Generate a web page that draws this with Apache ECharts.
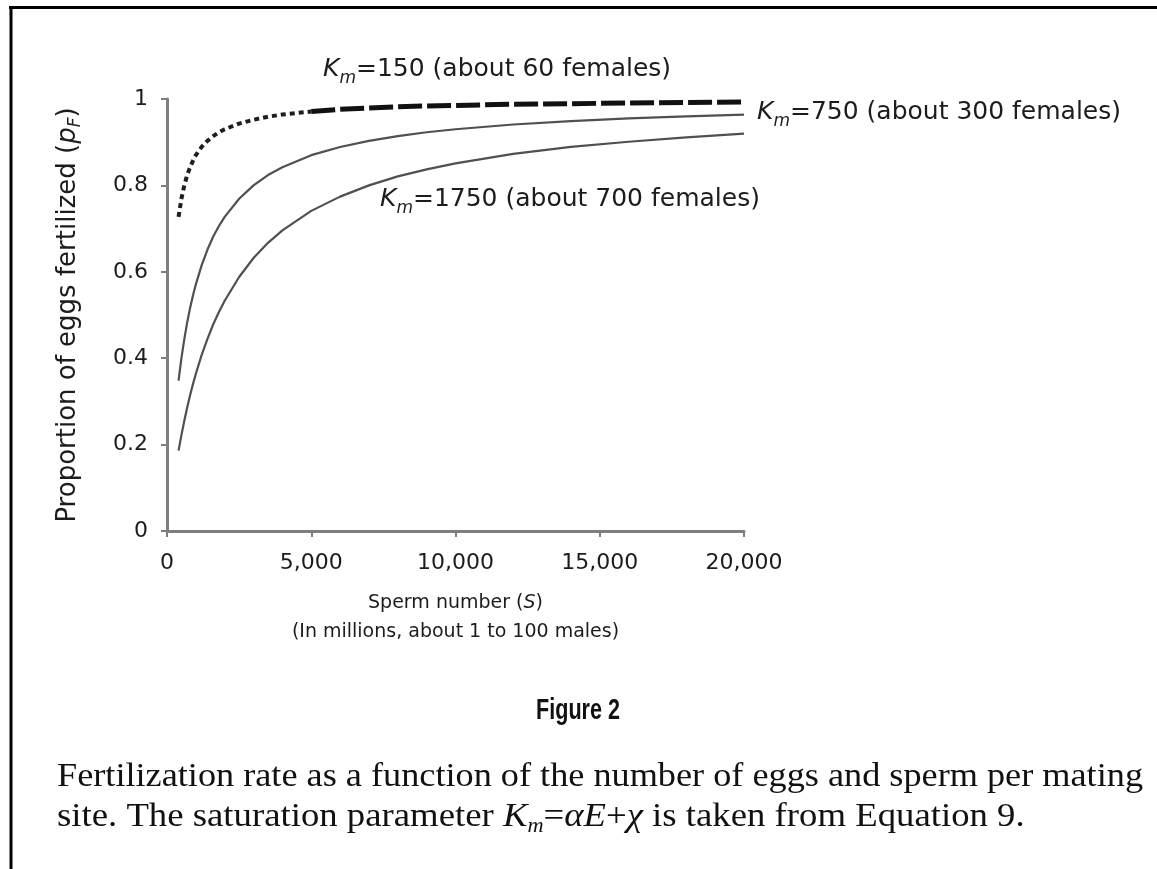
<!DOCTYPE html>
<html>
<head>
<meta charset="utf-8">
<script src="https://cdn.jsdelivr.net/npm/echarts@6/dist/echarts.min.js"></script>
<style>
  html, body { margin: 0; padding: 0; background: #ffffff; }
  #chart { width: 1157px; height: 869px; }
</style>
</head>
<body>
<div id="chart"></div>
<script>
// Sperm number S (millions) at which the proportion fertilized is given
const spermNumber = [400, 500, 600, 700, 800, 900, 1000, 1200, 1400, 1600, 1800, 2000,
                     2500, 3000, 3500, 4000, 5000, 6000, 7000, 8000, 9000, 10000,
                     12000, 14000, 16000, 18000, 20000];
// Proportion of eggs fertilized, one list per saturation parameter K_m
const pfKm150  = [0.727, 0.769, 0.800, 0.824, 0.842, 0.857, 0.870, 0.889, 0.903, 0.914, 0.923, 0.930,
                  0.943, 0.952, 0.959, 0.964, 0.971, 0.976, 0.979, 0.982, 0.984, 0.985,
                  0.988, 0.989, 0.991, 0.992, 0.993];
const pfKm750  = [0.348, 0.400, 0.444, 0.483, 0.516, 0.545, 0.571, 0.615, 0.651, 0.681, 0.706, 0.727,
                  0.769, 0.800, 0.824, 0.842, 0.870, 0.889, 0.903, 0.914, 0.923, 0.930,
                  0.941, 0.949, 0.955, 0.960, 0.964];
const pfKm1750 = [0.186, 0.222, 0.255, 0.286, 0.314, 0.340, 0.364, 0.407, 0.444, 0.478, 0.507, 0.533,
                  0.588, 0.632, 0.667, 0.696, 0.741, 0.774, 0.800, 0.821, 0.837, 0.851,
                  0.873, 0.889, 0.901, 0.911, 0.920];
const seriesNames = ['K_m=150', 'K_m=750', 'K_m=1750'];
const xTickLabels = ['0', '5,000', '10,000', '15,000', '20,000'];
const yTickLabels = ['0', '0.2', '0.4', '0.6', '0.8', '1'];

const SANS = 'DejaVu Sans';
const SERIF = 'Liberation Serif';
const AXIS_GREY = '#7f7f7f';
const INK = '#1c1c1c';

const pairs = vals => spermNumber.map((s, i) => [s, vals[i]]);
const km150 = pairs(pfKm150);
const dashFrom = spermNumber.indexOf(5000);

// rich-text styles for the italic K with subscript m
const kmRich = {
  k: { fontFamily: SANS, fontSize: 25, fontStyle: 'italic', lineHeight: 36, fill: INK },
  m: { fontFamily: SANS, fontSize: 17, fontStyle: 'italic', lineHeight: 17, verticalAlign: 'bottom', fill: INK },
  t: { fontFamily: SANS, fontSize: 25, lineHeight: 36, fill: INK }
};
function curveLabel(x, y, value, females) {
  return {
    type: 'text', x: x, y: y, silent: true,
    style: {
      text: '{k|K}{m|m}{t|=' + value + ' (about ' + females + ' females)}',
      rich: kmRich, align: 'left', verticalAlign: 'middle'
    }
  };
}

// caption: measure the serif line so it can be fitted to the text block width
const capLine1 = 'Fertilization rate as a function of the number of eggs and sperm per mating';
const capFont = '33px "' + SERIF + '"';
const measureCtx = document.createElement('canvas').getContext('2d');
measureCtx.font = capFont;
const capScale = (1143 - 57) / measureCtx.measureText(capLine1).width;

const capRich = {
  i: { fontFamily: SERIF, fontSize: 33, fontStyle: 'italic', lineHeight: 40, fill: '#111' },
  s: { fontFamily: SERIF, fontSize: 20, fontStyle: 'italic', lineHeight: 20, verticalAlign: 'bottom', fill: '#111' },
  r: { fontFamily: SERIF, fontSize: 33, lineHeight: 40, fill: '#111' }
};

const lineBase = { type: 'line', smooth: false, showSymbol: false, silent: true };

const chart = echarts.init(document.getElementById('chart'), null, { renderer: 'canvas' });

chart.setOption({
  backgroundColor: '#ffffff',
  animation: false,
  grid: { left: 167, right: 413, top: 99, bottom: 338, containLabel: false },
  xAxis: {
    type: 'value', min: 0, max: 20000, interval: 5000,
    axisLine: { show: true, onZero: false, lineStyle: { color: AXIS_GREY, width: 3 } },
    axisTick: { show: true, inside: false, length: 6, lineStyle: { color: AXIS_GREY, width: 2 } },
    splitLine: { show: false },
    axisLabel: {
      margin: 21, color: INK, fontFamily: SANS, fontSize: 22,
      formatter: v => xTickLabels[Math.round(v / 5000)]
    },
    name: '{t|Sperm number (}{i|S}{t|)}\n{t|(In millions, about 1 to 100 males)}',
    nameLocation: 'middle', nameGap: 58,
    nameTextStyle: {
      rich: {
        t: { fontFamily: SANS, fontSize: 19, lineHeight: 29, color: INK },
        i: { fontFamily: SANS, fontSize: 19, fontStyle: 'italic', lineHeight: 29, color: INK }
      }
    }
  },
  yAxis: {
    type: 'value', min: 0, max: 1, interval: 0.2,
    axisLine: { show: true, lineStyle: { color: AXIS_GREY, width: 3 } },
    axisTick: { show: true, inside: false, length: 6, lineStyle: { color: AXIS_GREY, width: 2 } },
    splitLine: { show: false },
    axisLabel: {
      margin: 19, color: INK, fontFamily: SANS, fontSize: 22,
      formatter: v => yTickLabels[Math.round(v / 0.2)]
    },
    name: '{t|Proportion of eggs fertilized (}{i|p}{s|F}{t|)}',
    nameLocation: 'middle', nameGap: 83,
    nameTextStyle: {
      rich: {
        t: { fontFamily: SANS, fontSize: 26, lineHeight: 32, color: INK },
        i: { fontFamily: SANS, fontSize: 26, fontStyle: 'italic', lineHeight: 32, color: INK },
        s: { fontFamily: SANS, fontSize: 17, fontStyle: 'italic', lineHeight: 17, verticalAlign: 'bottom', color: INK }
      }
    }
  },
  series: [
    Object.assign({}, lineBase, {
      name: seriesNames[2], data: pairs(pfKm1750),
      lineStyle: { color: '#505050', width: 2.2, join: 'round' }
    }),
    Object.assign({}, lineBase, {
      name: seriesNames[1], data: pairs(pfKm750),
      lineStyle: { color: '#505050', width: 2.2, join: 'round' }
    }),
    Object.assign({}, lineBase, {
      // steep early part of the K_m=150 curve, short dashes
      name: seriesNames[0], data: km150.slice(0, dashFrom + 1),
      lineStyle: { color: '#1e1e1e', width: 4, type: [5, 4] }
    }),
    Object.assign({}, lineBase, {
      // flat part of the K_m=150 curve, long dashes
      name: seriesNames[0], data: km150.slice(dashFrom),
      lineStyle: { color: '#111111', width: 5, type: [24, 5] }
    })
  ],
  graphic: [
    // figure frame (top and left rules)
    { type: 'line', silent: true, shape: { x1: 9, y1: 7.5, x2: 1157, y2: 7.5 }, style: { stroke: '#000', lineWidth: 3 } },
    { type: 'line', silent: true, shape: { x1: 11, y1: 6, x2: 11, y2: 869 }, style: { stroke: '#000', lineWidth: 3 } },
    // curve labels
    curveLabel(323, 69.5, 150, 60),
    curveLabel(757, 112, 750, 300),
    curveLabel(380, 199.5, 1750, 700),
    // figure heading
    {
      type: 'text', x: 578, y: 711, scaleX: 0.72, silent: true,
      style: { text: 'Figure 2', fontFamily: 'Liberation Sans', fontWeight: 'bold', fontSize: 30,
               fill: '#111', align: 'center', verticalAlign: 'middle' }
    },
    // caption
    {
      type: 'text', x: 57, y: 777, scaleX: capScale, silent: true,
      style: { text: capLine1, font: capFont, fill: '#111', align: 'left', verticalAlign: 'middle' }
    },
    {
      type: 'text', x: 57, y: 817, scaleX: capScale * 1.014, silent: true,
      style: {
        text: '{r|site. The saturation parameter }{i|K}{s|m}{r|=}{i|αE}{r|+}{i|χ}{r| is taken from Equation 9.}',
        rich: capRich, align: 'left', verticalAlign: 'middle'
      }
    }
  ]
});
</script>
</body>
</html>
